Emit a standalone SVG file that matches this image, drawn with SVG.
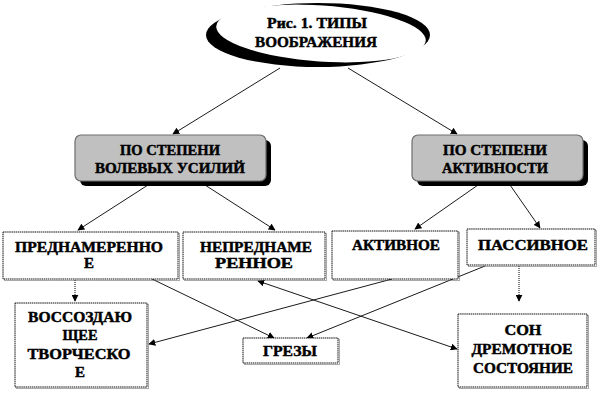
<svg xmlns="http://www.w3.org/2000/svg" width="598" height="411" viewBox="0 0 598 411">
<defs>
<marker id="ah" viewBox="0 0 10 10" refX="9" refY="5" markerWidth="7" markerHeight="7" markerUnits="userSpaceOnUse" orient="auto-start-reverse">
<path d="M0,0 L10,5 L0,10 z" fill="#000"/>
</marker>
<style>
text{font-family:'Liberation Serif','Times New Roman',serif;font-weight:700;font-size:15px;fill:#000;stroke:#000;stroke-width:0.45;text-anchor:middle}
.rb{fill:#c0c0c0;stroke:#6e6e6e;stroke-width:1.2}
.sh{fill:#000}
.bx{fill:#fff;stroke:#111;stroke-width:1;stroke-dasharray:1.5 0.6}
.bs{fill:none;stroke:#555;stroke-width:1;stroke-dasharray:1 1}
.ln{stroke:#000;stroke-width:0.9;fill:none;marker-end:url(#ah)}
.dt{stroke:#000;stroke-width:1;stroke-dasharray:1 1;fill:none;marker-end:url(#ah)}
</style>
</defs>
<rect width="598" height="411" fill="#fff"/>

<g id="connectors">
<line class="ln" x1="280" y1="68" x2="173" y2="134"/>
<line class="ln" x1="348" y1="68" x2="457" y2="134"/>
<line class="ln" x1="148" y1="185" x2="78" y2="230"/>
<line class="ln" x1="205" y1="185" x2="275" y2="230"/>
<line class="ln" x1="478" y1="185" x2="415" y2="229"/>
<line class="ln" x1="510" y1="185" x2="540" y2="228"/>
<line class="dt" x1="75" y1="280" x2="75" y2="301"/>
<line class="ln" x1="152" y1="279" x2="274" y2="338"/>
<line class="ln" x1="392" y1="279" x2="149" y2="344"/>
<line class="ln" x1="485" y1="266" x2="307" y2="338"/>
<line class="ln" x1="258" y1="281" x2="457" y2="349" marker-start="url(#ah)"/>
<line class="dt" x1="519" y1="266" x2="519" y2="301"/>
</g>

<g id="title">
<ellipse cx="318" cy="35" rx="112" ry="32" fill="#000"/>
<ellipse cx="321" cy="33.5" rx="105" ry="28" fill="#fff" transform="rotate(4 321 33.5)"/>
<text x="317" y="28" textLength="100" lengthAdjust="spacingAndGlyphs">Рис. 1. ТИПЫ</text>
<text x="316" y="47" textLength="122" lengthAdjust="spacingAndGlyphs">ВООБРАЖЕНИЯ</text>
</g>

<g id="volition">
<rect class="sh" x="80" y="140" width="191" height="46" rx="6"/>
<rect class="rb" x="75" y="135" width="191" height="46" rx="6"/>
<text x="170" y="155" textLength="100" lengthAdjust="spacingAndGlyphs">ПО СТЕПЕНИ</text>
<text x="170" y="173" textLength="150" lengthAdjust="spacingAndGlyphs">ВОЛЕВЫХ УСИЛИЙ</text>
</g>

<g id="activity">
<rect class="sh" x="417" y="140" width="171" height="46" rx="6"/>
<rect class="rb" x="412" y="135" width="171" height="46" rx="6"/>
<text x="495" y="155" textLength="104" lengthAdjust="spacingAndGlyphs">ПО СТЕПЕНИ</text>
<text x="495" y="173" textLength="106" lengthAdjust="spacingAndGlyphs">АКТИВНОСТИ</text>
</g>

<g id="intentional">
<rect class="bs" x="4.5" y="233.5" width="175" height="47"/>
<rect class="bx" x="3" y="232" width="175" height="47"/>
<text x="89" y="252" textLength="148" lengthAdjust="spacingAndGlyphs">ПРЕДНАМЕРЕННО</text>
<text x="89" y="268">Е</text>
</g>

<g id="unintentional">
<rect class="bs" x="184.5" y="233.5" width="142" height="47"/>
<rect class="bx" x="183" y="232" width="142" height="47"/>
<text x="256" y="252" textLength="112" lengthAdjust="spacingAndGlyphs">НЕПРЕДНАМЕ</text>
<text x="254" y="268" textLength="78" lengthAdjust="spacingAndGlyphs">РЕННОЕ</text>
</g>

<g id="active">
<rect class="bs" x="333.5" y="232.5" width="126" height="48"/>
<rect class="bx" x="332" y="231" width="126" height="48"/>
<text x="396" y="250" textLength="88" lengthAdjust="spacingAndGlyphs">АКТИВНОЕ</text>
</g>

<g id="passive">
<rect class="bs" x="468.5" y="230.5" width="128" height="36"/>
<rect class="bx" x="467" y="229" width="128" height="36"/>
<text x="533" y="250" textLength="110" lengthAdjust="spacingAndGlyphs">ПАССИВНОЕ</text>
</g>

<g id="recreative">
<rect class="bs" x="16.5" y="304.5" width="132" height="84"/>
<rect class="bx" x="15" y="303" width="132" height="84"/>
<text x="80" y="322" textLength="104" lengthAdjust="spacingAndGlyphs">ВОССОЗДАЮ</text>
<text x="80" y="340" textLength="35" lengthAdjust="spacingAndGlyphs">ЩЕЕ</text>
<text x="79" y="359" textLength="103" lengthAdjust="spacingAndGlyphs">ТВОРЧЕСКО</text>
<text x="80" y="377">Е</text>
</g>

<g id="daydreams">
<rect class="bs" x="244.5" y="339.5" width="95" height="25"/>
<rect class="bx" x="243" y="338" width="95" height="25"/>
<text x="290" y="356" textLength="54" lengthAdjust="spacingAndGlyphs">ГРЕЗЫ</text>
</g>

<g id="sleep">
<rect class="bs" x="459.5" y="315.5" width="129" height="73"/>
<rect class="bx" x="458" y="314" width="129" height="73"/>
<text x="523" y="335" textLength="37" lengthAdjust="spacingAndGlyphs">СОН</text>
<text x="522" y="354" textLength="101" lengthAdjust="spacingAndGlyphs">ДРЕМОТНОЕ</text>
<text x="523" y="373" textLength="100" lengthAdjust="spacingAndGlyphs">СОСТОЯНИЕ</text>
</g>
</svg>
